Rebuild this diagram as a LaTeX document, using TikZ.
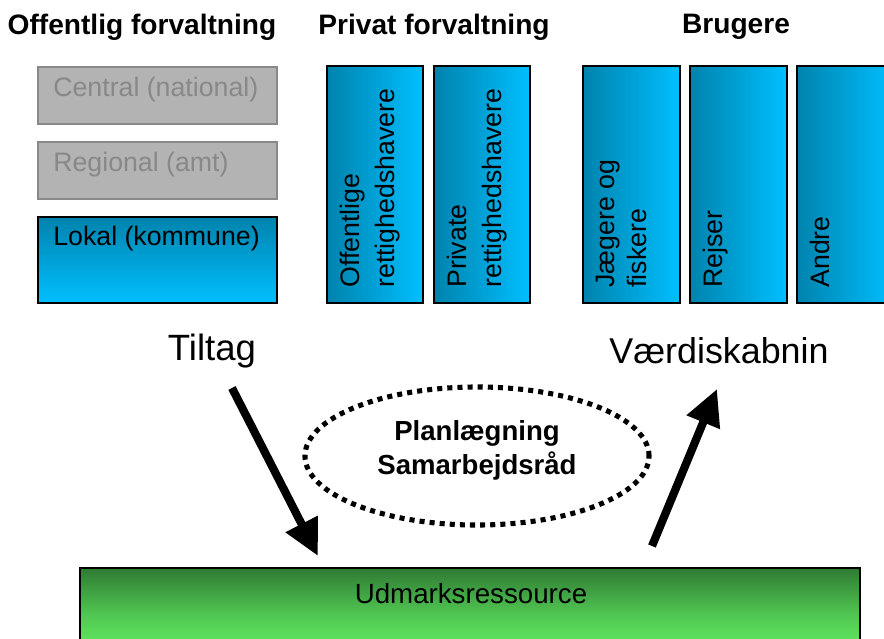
\documentclass[tikz,border=0pt]{standalone}
\usepackage{fontspec}
\setmainfont{Liberation Sans}
\usetikzlibrary{shapes.geometric,arrows.meta,positioning}

\definecolor{boxgray}{HTML}{B3B3B3}
\definecolor{edgegray}{HTML}{888888}
\definecolor{bluedark}{HTML}{0083AD}
\definecolor{bluelight}{HTML}{00BFFF}
\definecolor{greendark}{HTML}{2F7A33}
\definecolor{greenlight}{HTML}{66F866}

\tikzset{
  kasse/.style={draw, line width=1.3pt, rectangle, inner sep=0pt},
  graakasse/.style={kasse, draw=edgegray, fill=boxgray, minimum width=5.975cm, minimum height=1.425cm},
  blaakasse/.style={kasse, left color=bluedark, right color=bluelight, minimum width=2.4cm, minimum height=5.925cm},
  tekst/.style={font=\fontsize{19}{22}\selectfont, inner sep=0pt},
  rottekst/.style={tekst, rotate=90, align=left, anchor=north west, font=\fontsize{19}{24.5}\selectfont},
  overskrift/.style={font=\bfseries\fontsize{20}{23}\selectfont, inner sep=0pt},
  pil/.style={line width=5.8pt, -{Triangle[length=0.9cm, width=0.85cm]}},
}

\begin{document}
\begin{tikzpicture}[x=0.025cm, y=-0.025cm]
  \useasboundingbox (0,0) rectangle (884,639);
  \clip (0,0) rectangle (884,639);
  % 标题
  \node[overskrift] (hoved1) at (142,27) {Offentlig forvaltning};
  \node[overskrift] (hoved2) at (434,27) {Privat forvaltning};
  \node[overskrift] (hoved3) at (736,27) {Brugere};
  % 公共管理
  \node[graakasse] (central) at (157.5,95.5) {};
  \node[graakasse] (regional) at (157.5,170.5) {};
  \node[kasse, top color=bluedark, bottom color=bluelight, minimum width=5.975cm, minimum height=2.15cm] (lokal) at (157.5,260) {};
  \node[tekst, text=edgegray, anchor=west] (t1) at ([shift={(16,24)}]central.north west) {Central (national)};
  \node[tekst, text=edgegray, anchor=west] (t2) at ([shift={(16,24)}]regional.north west) {Regional (amt)};
  \node[tekst, anchor=west] (t3) at ([shift={(16,23)}]lokal.north west) {Lokal (kommune)};
  % 私人管理
  \node[blaakasse] (offentlige) at (375,184.5) {};
  \node[blaakasse] (private) at (482,184.5) {};
  \node[rottekst] (t4) at ([shift={(14,-16)}]offentlige.south west) {Offentlige\\rettighedshavere};
  \node[rottekst] (t5) at ([shift={(14,-16)}]private.south west) {Private\\rettighedshavere};
  % 用户
  \node[blaakasse, minimum width=2.425cm] (jaegere) at (631.5,184.5) {};
  \node[blaakasse, minimum width=2.425cm] (rejser) at (738.5,184.5) {};
  \node[blaakasse, minimum width=2.425cm] (andre) at (845.5,184.5) {};
  \node[rottekst, font=\fontsize{19}{22.5}\selectfont] (t6) at ([shift={(14,-16)}]jaegere.south west) {Jægere og\\fiskere};
  \node[rottekst] (t7) at ([shift={(14,-16)}]rejser.south west) {Rejser};
  \node[rottekst] (t8) at ([shift={(14,-16)}]andre.south west) {Andre};
  % 中间
  \node[font=\fontsize{26}{30}\selectfont, inner sep=0pt] (tiltag) at (212,351) {Tiltag};
  \node[font=\fontsize{25.5}{30}\selectfont, inner sep=0pt] (vaerdi) at (719,351) {Værdiskabnin};
  \node[draw, ellipse, line width=3.6pt, dash pattern=on 3.6pt off 3.6pt, minimum width=8.6cm, minimum height=3.45cm] (plan) at (477,456) {};
  \node[overskrift, align=center, font=\bfseries\fontsize{19.6}{24}\selectfont] (plantekst) at (477,450) {Planlægning\\Samarbejdsråd};
  % 资源
  \node[kasse, top color=greendark, bottom color=greenlight, middle color=greenlight!60!greendark, minimum width=19.5cm, minimum height=2.3cm] (udmark) at (470,614) {};
  \node[tekst, font=\fontsize{19.7}{22}\selectfont] (t9) at (471,594) {Udmarksressource};
  % 箭头
  \coordinate (p1) at (232,388);
  \coordinate (p2) at (318,556);
  \coordinate (p3) at (652,546);
  \coordinate (p4) at (717,389);
  \draw[pil] (p1) -- (p2);
  \draw[pil] (p3) -- (p4);
\end{tikzpicture}
\end{document}
